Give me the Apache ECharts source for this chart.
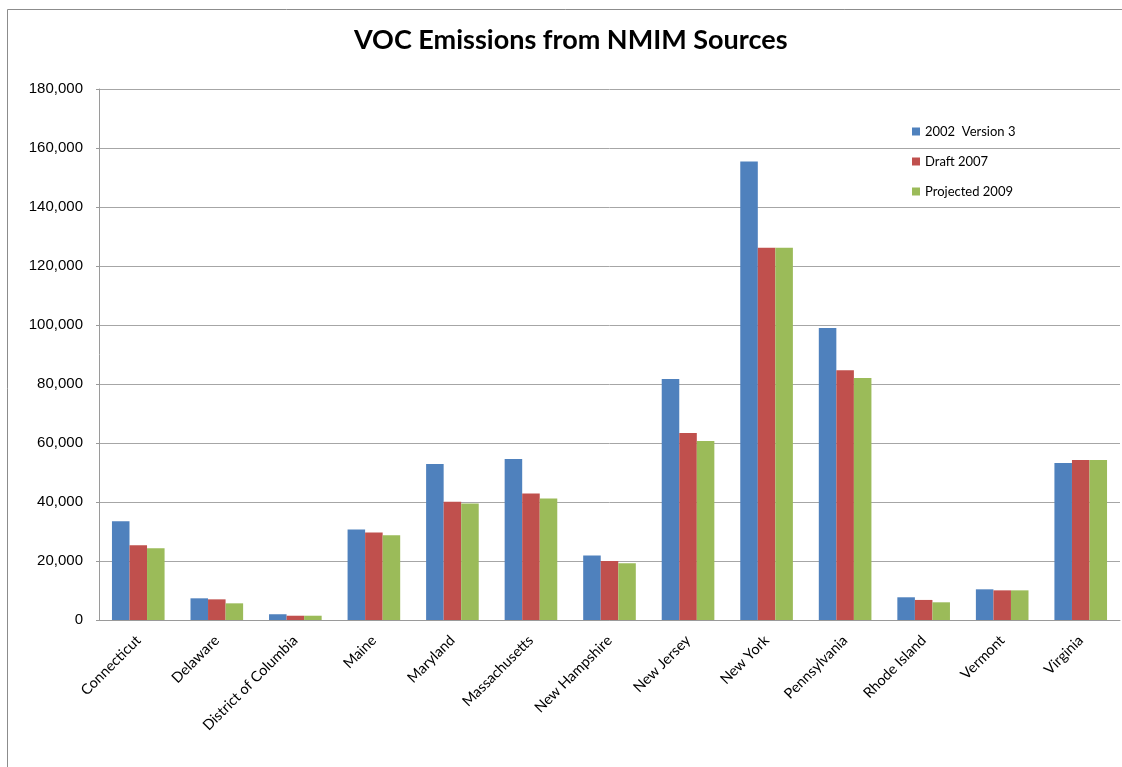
<!DOCTYPE html>
<html>
<head>
<meta charset="utf-8">
<script src="https://cdn.jsdelivr.net/npm/echarts@6/dist/echarts.min.js"></script>
<style>
html,body{margin:0;padding:0;background:#fff;}
#chart{width:1122px;height:767px;}
</style>
</head>
<body>
<div id="chart"></div>
<script>
var title = 'VOC Emissions from NMIM Sources';
var categories = ['Connecticut','Delaware','District of Columbia','Maine','Maryland','Massachusetts','New Hampshire','New Jersey','New York','Pennsylvania','Rhode Island','Vermont','Virginia'];
var seriesNames = ['2002  Version 3','Draft 2007','Projected 2009'];
var v2002 = [33500, 7350, 1950, 30700, 52900, 54600, 21900, 81700, 155400, 99000, 7700, 10400, 53200];
var draft2007 = [25300, 7000, 1450, 29700, 40100, 42900, 20000, 63400, 126200, 84700, 6800, 10050, 54200];
var proj2009 = [24300, 5650, 1450, 28700, 39500, 41200, 19200, 60700, 126200, 82000, 6000, 10050, 54200];
var colors = ['#4F81BD','#C0504D','#9BBB59'];

var chart = echarts.init(document.getElementById('chart'));
var values = [v2002, draft2007, proj2009];
chart.setOption({
  animation: false,
  backgroundColor: '#ffffff',
  graphic: [{
    type: 'rect', left: 5, top: 7, z: -1,
    shape: {width: 1200, height: 800},
    style: {fill: 'none', stroke: '#8c8c8c', lineWidth: 1}
  }],
  title: {
    text: title, left: 349, top: 22,
    textStyle: {fontFamily: 'Lato', fontWeight: 'bold', fontSize: 27, color: '#000'}
  },
  legend: {
    orient: 'vertical', left: 907, top: 120, itemGap: 17,
    itemWidth: 8, itemHeight: 8, icon: 'rect',
    textStyle: {fontFamily: 'Lato', fontSize: 13, color: '#000'},
    data: seriesNames
  },
  grid: {left: 99, right: 2, top: 89, bottom: 147, containLabel: false},
  xAxis: {
    type: 'category', data: categories,
    axisLine: {lineStyle: {color: '#9a9a9a'}},
    axisTick: {show: false},
    axisLabel: {rotate: 45, interval: 0, fontFamily: 'Lato', fontSize: 14.5, color: '#000', margin: 18}
  },
  yAxis: {
    type: 'value', min: 0, max: 180000, interval: 20000,
    axisLine: {show: true, lineStyle: {color: '#9a9a9a'}},
    axisTick: {show: true, length: 3, lineStyle: {color: '#9a9a9a'}},
    splitLine: {lineStyle: {color: '#a6a6a6', width: 1}},
    axisLabel: {
      fontFamily: 'Liberation Sans', fontSize: 15, color: '#000', margin: 16,
      formatter: function(v){ return v.toLocaleString('en-US'); }
    }
  },
  series: seriesNames.map(function(n, i){
    return {
      name: n, type: 'bar', data: values[i],
      barGap: '0%', barCategoryGap: '33%',
      itemStyle: {color: colors[i]}
    };
  })
});
</script>
</body>
</html>
